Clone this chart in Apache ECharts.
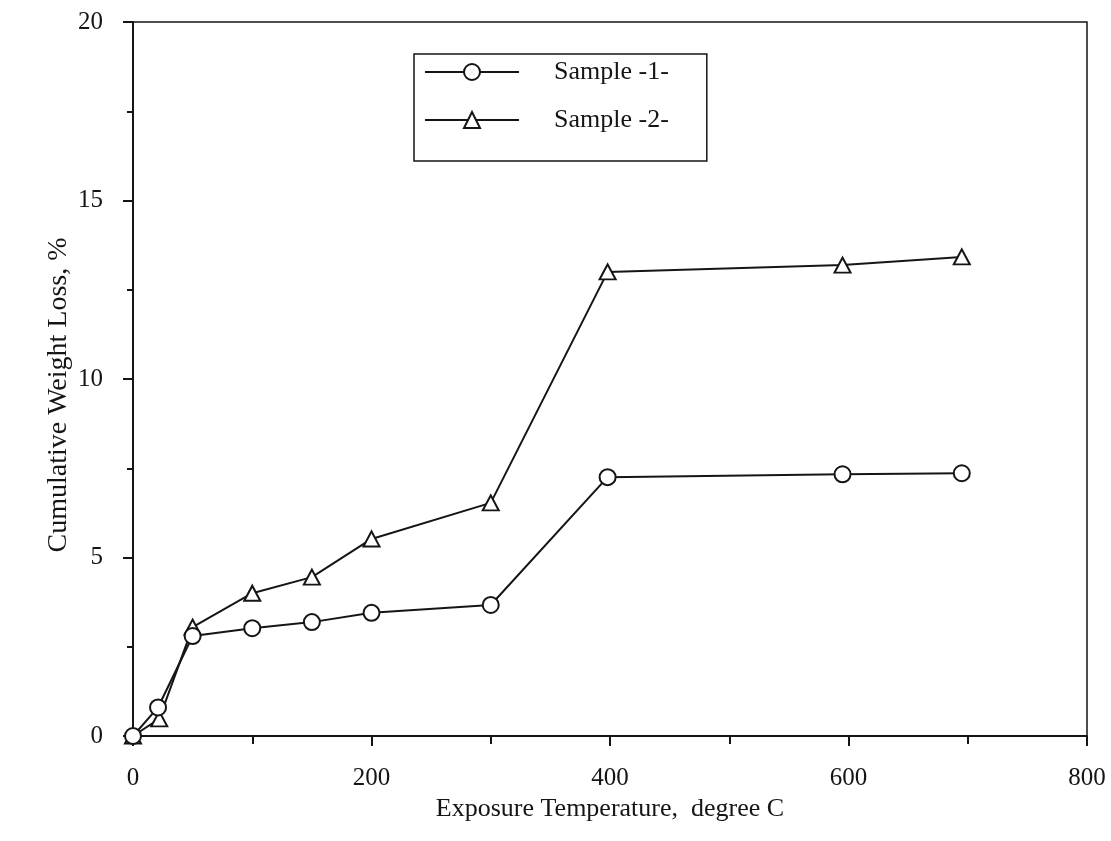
<!DOCTYPE html>
<html>
<head>
<meta charset="utf-8">
<script src="https://cdn.jsdelivr.net/npm/echarts@6/dist/echarts.min.js"></script>
<style>html,body{margin:0;padding:0;background:#fff;}#c{width:1111px;height:841px;}</style>
</head>
<body>
<div id="c"></div>
<script>
const temperatures1 = [0, 21, 50, 100, 150, 200, 300, 398, 595, 695];
const sample1 = [0, 0.8, 2.8, 3.02, 3.19, 3.45, 3.67, 7.25, 7.33, 7.36];
const temperatures2 = [0, 22, 50, 100, 150, 200, 300, 398, 595, 695];
const sample2 = [0, 0.48, 3.05, 4.0, 4.45, 5.52, 6.53, 13.0, 13.19, 13.42];
const seriesNames = ['Sample -1-', 'Sample -2-'];
const xTitle = 'Exposure Temperature,  degree C';
const yTitle = 'Cumulative Weight Loss, %';

const font = 'Liberation Serif';
const ink = '#151515';
const chart = echarts.init(document.getElementById('c'), null, {renderer: 'canvas'});

function pairs(xs, ys) { return xs.map((x, i) => [x, ys[i]]); }

chart.setOption({
  animation: false,
  backgroundColor: '#fff',
  grid: {left: 133, right: 24, top: 22, bottom: 105, show: true, borderColor: ink, borderWidth: 1.5, backgroundColor: 'transparent'},
  legend: {
    orient: 'vertical', left: 414, top: 54,
    itemWidth: 94, itemHeight: 20, itemGap: 22,
    padding: [5, 38, 28, 10],
    borderColor: ink, borderWidth: 1.5,
    textStyle: {fontFamily: font, fontSize: 26, color: ink, padding: [0, 0, 0, 30]},
    data: seriesNames
  },
  xAxis: {
    type: 'value', min: 0, max: 800, interval: 200,
    name: xTitle, nameLocation: 'middle', nameGap: 57,
    nameTextStyle: {fontFamily: font, fontSize: 26, color: ink},
    axisLine: {lineStyle: {color: ink, width: 2}},
    axisTick: {inside: false, length: 10, lineStyle: {color: ink, width: 2}},
    minorTick: {show: true, splitNumber: 2, length: 8, lineStyle: {color: ink, width: 2}},
    splitLine: {show: false},
    axisLabel: {fontFamily: font, fontSize: 25, color: ink, margin: 30}
  },
  yAxis: {
    type: 'value', min: 0, max: 20, interval: 5,
    name: yTitle, nameLocation: 'middle', nameGap: 60, nameMoveOverlap: false,
    nameTextStyle: {fontFamily: font, fontSize: 28, color: ink, padding: [0, 32, 0, 0]},
    axisLine: {lineStyle: {color: ink, width: 2}},
    axisTick: {inside: false, length: 10, lineStyle: {color: ink, width: 2}},
    minorTick: {show: true, splitNumber: 2, length: 6, lineStyle: {color: ink, width: 2}},
    splitLine: {show: false},
    axisLabel: {fontFamily: font, fontSize: 25, color: ink, margin: 30}
  },
  series: [
    {
      name: seriesNames[0], type: 'line', data: pairs(temperatures1, sample1),
      symbol: 'circle', symbolSize: 16, showAllSymbol: true,
      lineStyle: {color: ink, width: 2},
      itemStyle: {color: '#fff', borderColor: ink, borderWidth: 2},
      z: 3
    },
    {
      name: seriesNames[1], type: 'line', data: pairs(temperatures2, sample2),
      symbol: 'triangle', symbolSize: [16, 15], showAllSymbol: true,
      lineStyle: {color: ink, width: 2},
      itemStyle: {color: '#fff', borderColor: ink, borderWidth: 2},
      z: 2
    }
  ]
});
</script>
</body>
</html>
